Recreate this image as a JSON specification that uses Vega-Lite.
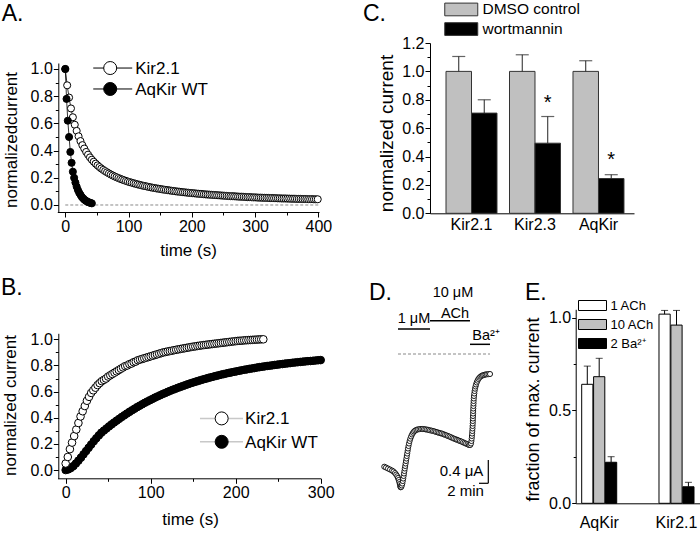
{
"$schema":"https://vega.github.io/schema/vega-lite/v6.json",
"width":700,"height":533,"autosize":{"type":"none"},"padding":0,"background":"white",
"config":{"view":{"stroke":null},
"axis":{"domainColor":"black","tickColor":"black","labelColor":"black","titleColor":"black","labelFont":"Liberation Sans","titleFont":"Liberation Sans","grid":false,"titleFontWeight":"normal","labelFlush":false,"labelOverlap":false,"labelBound":false,"domainWidth":1,"tickWidth":1},
"legend":{"labelFont":"Liberation Sans","labelColor":"black"},
"text":{"font":"Liberation Sans","color":"black"}},
"datasets":{
"A":[
{"s":"Kir2.1","t":0,"y":1.0},{"s":"Kir2.1","t":3,"y":0.88},{"s":"Kir2.1","t":6,"y":0.79},{"s":"Kir2.1","t":9,"y":0.71},{"s":"Kir2.1","t":12,"y":0.645},{"s":"Kir2.1","t":15,"y":0.59},{"s":"Kir2.1","t":18,"y":0.545},{"s":"Kir2.1","t":21,"y":0.505},{"s":"Kir2.1","t":24,"y":0.47},{"s":"Kir2.1","t":27,"y":0.44},{"s":"Kir2.1","t":30,"y":0.415},{"s":"Kir2.1","t":33,"y":0.39},{"s":"Kir2.1","t":36,"y":0.37},{"s":"Kir2.1","t":39,"y":0.35},{"s":"Kir2.1","t":42,"y":0.333},{"s":"Kir2.1","t":45,"y":0.318},{"s":"Kir2.1","t":48,"y":0.304},{"s":"Kir2.1","t":51,"y":0.291},{"s":"Kir2.1","t":54,"y":0.279},{"s":"Kir2.1","t":57,"y":0.268},{"s":"Kir2.1","t":60,"y":0.258},{"s":"Kir2.1","t":63,"y":0.249},{"s":"Kir2.1","t":66,"y":0.24},{"s":"Kir2.1","t":69,"y":0.232},{"s":"Kir2.1","t":72,"y":0.224},{"s":"Kir2.1","t":75,"y":0.217},{"s":"Kir2.1","t":78,"y":0.21},{"s":"Kir2.1","t":81,"y":0.204},{"s":"Kir2.1","t":84,"y":0.198},{"s":"Kir2.1","t":87,"y":0.192},{"s":"Kir2.1","t":90,"y":0.187},{"s":"Kir2.1","t":93,"y":0.182},{"s":"Kir2.1","t":96,"y":0.177},{"s":"Kir2.1","t":99,"y":0.172},{"s":"Kir2.1","t":102,"y":0.168},{"s":"Kir2.1","t":105,"y":0.164},{"s":"Kir2.1","t":108,"y":0.16},{"s":"Kir2.1","t":111,"y":0.156},{"s":"Kir2.1","t":114,"y":0.152},{"s":"Kir2.1","t":117,"y":0.149},{"s":"Kir2.1","t":120,"y":0.145},{"s":"Kir2.1","t":123,"y":0.142},{"s":"Kir2.1","t":126,"y":0.139},{"s":"Kir2.1","t":129,"y":0.136},{"s":"Kir2.1","t":132,"y":0.133},{"s":"Kir2.1","t":135,"y":0.13},{"s":"Kir2.1","t":138,"y":0.127},{"s":"Kir2.1","t":141,"y":0.125},{"s":"Kir2.1","t":144,"y":0.122},{"s":"Kir2.1","t":147,"y":0.12},{"s":"Kir2.1","t":150,"y":0.118},{"s":"Kir2.1","t":153,"y":0.115},{"s":"Kir2.1","t":156,"y":0.113},{"s":"Kir2.1","t":159,"y":0.111},{"s":"Kir2.1","t":162,"y":0.109},{"s":"Kir2.1","t":165,"y":0.107},{"s":"Kir2.1","t":168,"y":0.105},{"s":"Kir2.1","t":171,"y":0.103},{"s":"Kir2.1","t":174,"y":0.101},{"s":"Kir2.1","t":177,"y":0.099},{"s":"Kir2.1","t":180,"y":0.098},{"s":"Kir2.1","t":183,"y":0.096},{"s":"Kir2.1","t":186,"y":0.094},{"s":"Kir2.1","t":189,"y":0.093},{"s":"Kir2.1","t":192,"y":0.091},{"s":"Kir2.1","t":195,"y":0.09},{"s":"Kir2.1","t":198,"y":0.088},{"s":"Kir2.1","t":201,"y":0.087},{"s":"Kir2.1","t":204,"y":0.086},{"s":"Kir2.1","t":207,"y":0.084},{"s":"Kir2.1","t":210,"y":0.083},{"s":"Kir2.1","t":213,"y":0.082},{"s":"Kir2.1","t":216,"y":0.081},{"s":"Kir2.1","t":219,"y":0.079},{"s":"Kir2.1","t":222,"y":0.078},{"s":"Kir2.1","t":225,"y":0.077},{"s":"Kir2.1","t":228,"y":0.076},{"s":"Kir2.1","t":231,"y":0.075},{"s":"Kir2.1","t":234,"y":0.074},{"s":"Kir2.1","t":237,"y":0.073},{"s":"Kir2.1","t":240,"y":0.072},{"s":"Kir2.1","t":243,"y":0.071},{"s":"Kir2.1","t":246,"y":0.07},{"s":"Kir2.1","t":249,"y":0.069},{"s":"Kir2.1","t":252,"y":0.068},{"s":"Kir2.1","t":255,"y":0.067},{"s":"Kir2.1","t":258,"y":0.066},{"s":"Kir2.1","t":261,"y":0.065},{"s":"Kir2.1","t":264,"y":0.065},{"s":"Kir2.1","t":267,"y":0.064},{"s":"Kir2.1","t":270,"y":0.063},{"s":"Kir2.1","t":273,"y":0.062},{"s":"Kir2.1","t":276,"y":0.061},{"s":"Kir2.1","t":279,"y":0.061},{"s":"Kir2.1","t":282,"y":0.06},{"s":"Kir2.1","t":285,"y":0.059},{"s":"Kir2.1","t":288,"y":0.058},{"s":"Kir2.1","t":291,"y":0.058},{"s":"Kir2.1","t":294,"y":0.057},{"s":"Kir2.1","t":297,"y":0.056},{"s":"Kir2.1","t":300,"y":0.056},{"s":"Kir2.1","t":303,"y":0.055},{"s":"Kir2.1","t":306,"y":0.054},{"s":"Kir2.1","t":309,"y":0.054},{"s":"Kir2.1","t":312,"y":0.053},{"s":"Kir2.1","t":315,"y":0.053},{"s":"Kir2.1","t":318,"y":0.052},{"s":"Kir2.1","t":321,"y":0.052},{"s":"Kir2.1","t":324,"y":0.051},{"s":"Kir2.1","t":327,"y":0.051},{"s":"Kir2.1","t":330,"y":0.05},{"s":"Kir2.1","t":333,"y":0.05},{"s":"Kir2.1","t":336,"y":0.049},{"s":"Kir2.1","t":339,"y":0.049},{"s":"Kir2.1","t":342,"y":0.048},{"s":"Kir2.1","t":345,"y":0.048},{"s":"Kir2.1","t":348,"y":0.048},{"s":"Kir2.1","t":351,"y":0.047},{"s":"Kir2.1","t":354,"y":0.047},{"s":"Kir2.1","t":357,"y":0.046},{"s":"Kir2.1","t":360,"y":0.046},{"s":"Kir2.1","t":363,"y":0.046},{"s":"Kir2.1","t":366,"y":0.045},{"s":"Kir2.1","t":369,"y":0.045},{"s":"Kir2.1","t":372,"y":0.045},{"s":"Kir2.1","t":375,"y":0.044},{"s":"Kir2.1","t":378,"y":0.044},{"s":"Kir2.1","t":381,"y":0.044},{"s":"Kir2.1","t":384,"y":0.043},{"s":"Kir2.1","t":387,"y":0.043},{"s":"Kir2.1","t":390,"y":0.043},{"s":"Kir2.1","t":393,"y":0.042},{"s":"Kir2.1","t":396,"y":0.042},{"s":"Kir2.1","t":399,"y":0.042},
{"s":"AqKir WT","t":0,"y":1.0},{"s":"AqKir WT","t":2,"y":0.78},{"s":"AqKir WT","t":4,"y":0.62},{"s":"AqKir WT","t":6,"y":0.5},{"s":"AqKir WT","t":8,"y":0.39},{"s":"AqKir WT","t":10,"y":0.31},{"s":"AqKir WT","t":12,"y":0.245},{"s":"AqKir WT","t":14,"y":0.2},{"s":"AqKir WT","t":16,"y":0.165},{"s":"AqKir WT","t":18,"y":0.135},{"s":"AqKir WT","t":20,"y":0.11},{"s":"AqKir WT","t":22,"y":0.09},{"s":"AqKir WT","t":24,"y":0.075},{"s":"AqKir WT","t":26,"y":0.06},{"s":"AqKir WT","t":28,"y":0.05},{"s":"AqKir WT","t":30,"y":0.04},{"s":"AqKir WT","t":32,"y":0.033},{"s":"AqKir WT","t":34,"y":0.027},{"s":"AqKir WT","t":36,"y":0.022},{"s":"AqKir WT","t":38,"y":0.018},{"s":"AqKir WT","t":40,"y":0.015},{"s":"AqKir WT","t":42,"y":0.012}
],
"B":[
{"s":"AqKir WT","t":0,"y":0},{"s":"AqKir WT","t":3,"y":0.005},{"s":"AqKir WT","t":6,"y":0.015},{"s":"AqKir WT","t":9,"y":0.03},{"s":"AqKir WT","t":12,"y":0.05},{"s":"AqKir WT","t":15,"y":0.072},{"s":"AqKir WT","t":18,"y":0.095},{"s":"AqKir WT","t":21,"y":0.12},{"s":"AqKir WT","t":24,"y":0.145},{"s":"AqKir WT","t":27,"y":0.17},{"s":"AqKir WT","t":30,"y":0.195},{"s":"AqKir WT","t":33,"y":0.22},{"s":"AqKir WT","t":36,"y":0.243},{"s":"AqKir WT","t":39,"y":0.265},{"s":"AqKir WT","t":42,"y":0.286},{"s":"AqKir WT","t":45,"y":0.302},{"s":"AqKir WT","t":48,"y":0.318},{"s":"AqKir WT","t":51,"y":0.334},{"s":"AqKir WT","t":54,"y":0.349},{"s":"AqKir WT","t":57,"y":0.364},{"s":"AqKir WT","t":60,"y":0.378},{"s":"AqKir WT","t":63,"y":0.392},{"s":"AqKir WT","t":66,"y":0.406},{"s":"AqKir WT","t":69,"y":0.419},{"s":"AqKir WT","t":72,"y":0.432},{"s":"AqKir WT","t":75,"y":0.445},{"s":"AqKir WT","t":78,"y":0.457},{"s":"AqKir WT","t":81,"y":0.469},{"s":"AqKir WT","t":84,"y":0.481},{"s":"AqKir WT","t":87,"y":0.492},{"s":"AqKir WT","t":90,"y":0.503},{"s":"AqKir WT","t":93,"y":0.514},{"s":"AqKir WT","t":96,"y":0.524},{"s":"AqKir WT","t":99,"y":0.534},{"s":"AqKir WT","t":102,"y":0.544},{"s":"AqKir WT","t":105,"y":0.554},{"s":"AqKir WT","t":108,"y":0.563},{"s":"AqKir WT","t":111,"y":0.572},{"s":"AqKir WT","t":114,"y":0.581},{"s":"AqKir WT","t":117,"y":0.589},{"s":"AqKir WT","t":120,"y":0.598},{"s":"AqKir WT","t":123,"y":0.606},{"s":"AqKir WT","t":126,"y":0.614},{"s":"AqKir WT","t":129,"y":0.621},{"s":"AqKir WT","t":132,"y":0.629},{"s":"AqKir WT","t":135,"y":0.636},{"s":"AqKir WT","t":138,"y":0.643},{"s":"AqKir WT","t":141,"y":0.65},{"s":"AqKir WT","t":144,"y":0.657},{"s":"AqKir WT","t":147,"y":0.664},{"s":"AqKir WT","t":150,"y":0.67},{"s":"AqKir WT","t":153,"y":0.676},{"s":"AqKir WT","t":156,"y":0.682},{"s":"AqKir WT","t":159,"y":0.688},{"s":"AqKir WT","t":162,"y":0.694},{"s":"AqKir WT","t":165,"y":0.699},{"s":"AqKir WT","t":168,"y":0.705},{"s":"AqKir WT","t":171,"y":0.71},{"s":"AqKir WT","t":174,"y":0.715},{"s":"AqKir WT","t":177,"y":0.72},{"s":"AqKir WT","t":180,"y":0.725},{"s":"AqKir WT","t":183,"y":0.73},{"s":"AqKir WT","t":186,"y":0.734},{"s":"AqKir WT","t":189,"y":0.739},{"s":"AqKir WT","t":192,"y":0.743},{"s":"AqKir WT","t":195,"y":0.747},{"s":"AqKir WT","t":198,"y":0.751},{"s":"AqKir WT","t":201,"y":0.755},{"s":"AqKir WT","t":204,"y":0.759},{"s":"AqKir WT","t":207,"y":0.763},{"s":"AqKir WT","t":210,"y":0.767},{"s":"AqKir WT","t":213,"y":0.77},{"s":"AqKir WT","t":216,"y":0.774},{"s":"AqKir WT","t":219,"y":0.777},{"s":"AqKir WT","t":222,"y":0.78},{"s":"AqKir WT","t":225,"y":0.784},{"s":"AqKir WT","t":228,"y":0.787},{"s":"AqKir WT","t":231,"y":0.79},{"s":"AqKir WT","t":234,"y":0.793},{"s":"AqKir WT","t":237,"y":0.796},{"s":"AqKir WT","t":240,"y":0.798},{"s":"AqKir WT","t":243,"y":0.801},{"s":"AqKir WT","t":246,"y":0.804},{"s":"AqKir WT","t":249,"y":0.806},{"s":"AqKir WT","t":252,"y":0.809},{"s":"AqKir WT","t":255,"y":0.811},{"s":"AqKir WT","t":258,"y":0.814},{"s":"AqKir WT","t":261,"y":0.816},{"s":"AqKir WT","t":264,"y":0.818},{"s":"AqKir WT","t":267,"y":0.821},{"s":"AqKir WT","t":270,"y":0.823},{"s":"AqKir WT","t":273,"y":0.825},{"s":"AqKir WT","t":276,"y":0.827},{"s":"AqKir WT","t":279,"y":0.829},{"s":"AqKir WT","t":282,"y":0.831},{"s":"AqKir WT","t":285,"y":0.833},{"s":"AqKir WT","t":288,"y":0.834},{"s":"AqKir WT","t":291,"y":0.836},{"s":"AqKir WT","t":294,"y":0.838},{"s":"AqKir WT","t":297,"y":0.84},{"s":"AqKir WT","t":300,"y":0.841},
{"s":"Kir2.1","t":0,"y":0.05},{"s":"Kir2.1","t":2.5,"y":0.1},{"s":"Kir2.1","t":5,"y":0.16},{"s":"Kir2.1","t":7.5,"y":0.21},{"s":"Kir2.1","t":10,"y":0.26},{"s":"Kir2.1","t":12.5,"y":0.31},{"s":"Kir2.1","t":15,"y":0.36},{"s":"Kir2.1","t":17.5,"y":0.41},{"s":"Kir2.1","t":20,"y":0.45},{"s":"Kir2.1","t":22.5,"y":0.49},{"s":"Kir2.1","t":25,"y":0.53},{"s":"Kir2.1","t":27.5,"y":0.56},{"s":"Kir2.1","t":30,"y":0.59},{"s":"Kir2.1","t":32.5,"y":0.61},{"s":"Kir2.1","t":35,"y":0.63},{"s":"Kir2.1","t":37.5,"y":0.65},{"s":"Kir2.1","t":40,"y":0.665},{"s":"Kir2.1","t":42.5,"y":0.68},{"s":"Kir2.1","t":45,"y":0.69},{"s":"Kir2.1","t":47.5,"y":0.7},{"s":"Kir2.1","t":50,"y":0.715},{"s":"Kir2.1","t":52.5,"y":0.725},{"s":"Kir2.1","t":55,"y":0.735},{"s":"Kir2.1","t":57.5,"y":0.745},{"s":"Kir2.1","t":60,"y":0.755},{"s":"Kir2.1","t":62.5,"y":0.765},{"s":"Kir2.1","t":65,"y":0.775},{"s":"Kir2.1","t":67.5,"y":0.785},{"s":"Kir2.1","t":70,"y":0.795},{"s":"Kir2.1","t":72.5,"y":0.8},{"s":"Kir2.1","t":75,"y":0.81},{"s":"Kir2.1","t":77.5,"y":0.815},{"s":"Kir2.1","t":80,"y":0.825},{"s":"Kir2.1","t":82.5,"y":0.83},{"s":"Kir2.1","t":85,"y":0.84},{"s":"Kir2.1","t":87.5,"y":0.845},{"s":"Kir2.1","t":90,"y":0.85},{"s":"Kir2.1","t":92.5,"y":0.855},{"s":"Kir2.1","t":95,"y":0.86},{"s":"Kir2.1","t":97.5,"y":0.865},{"s":"Kir2.1","t":100,"y":0.87},{"s":"Kir2.1","t":102.5,"y":0.875},{"s":"Kir2.1","t":105,"y":0.88},{"s":"Kir2.1","t":107.5,"y":0.885},{"s":"Kir2.1","t":110,"y":0.89},{"s":"Kir2.1","t":112.5,"y":0.895},{"s":"Kir2.1","t":115,"y":0.9},{"s":"Kir2.1","t":117.5,"y":0.903},{"s":"Kir2.1","t":120,"y":0.907},{"s":"Kir2.1","t":122.5,"y":0.91},{"s":"Kir2.1","t":125,"y":0.913},{"s":"Kir2.1","t":127.5,"y":0.917},{"s":"Kir2.1","t":130,"y":0.92},{"s":"Kir2.1","t":132.5,"y":0.923},{"s":"Kir2.1","t":135,"y":0.926},{"s":"Kir2.1","t":137.5,"y":0.929},{"s":"Kir2.1","t":140,"y":0.932},{"s":"Kir2.1","t":142.5,"y":0.935},{"s":"Kir2.1","t":145,"y":0.938},{"s":"Kir2.1","t":147.5,"y":0.941},{"s":"Kir2.1","t":150,"y":0.944},{"s":"Kir2.1","t":152.5,"y":0.946},{"s":"Kir2.1","t":155,"y":0.949},{"s":"Kir2.1","t":157.5,"y":0.951},{"s":"Kir2.1","t":160,"y":0.954},{"s":"Kir2.1","t":162.5,"y":0.956},{"s":"Kir2.1","t":165,"y":0.958},{"s":"Kir2.1","t":167.5,"y":0.96},{"s":"Kir2.1","t":170,"y":0.962},{"s":"Kir2.1","t":172.5,"y":0.964},{"s":"Kir2.1","t":175,"y":0.966},{"s":"Kir2.1","t":177.5,"y":0.968},{"s":"Kir2.1","t":180,"y":0.97},{"s":"Kir2.1","t":182.5,"y":0.972},{"s":"Kir2.1","t":185,"y":0.974},{"s":"Kir2.1","t":187.5,"y":0.976},{"s":"Kir2.1","t":190,"y":0.978},{"s":"Kir2.1","t":192.5,"y":0.98},{"s":"Kir2.1","t":195,"y":0.982},{"s":"Kir2.1","t":197.5,"y":0.984},{"s":"Kir2.1","t":200,"y":0.986},{"s":"Kir2.1","t":202.5,"y":0.988},{"s":"Kir2.1","t":205,"y":0.989},{"s":"Kir2.1","t":207.5,"y":0.99},{"s":"Kir2.1","t":210,"y":0.992},{"s":"Kir2.1","t":212.5,"y":0.993},{"s":"Kir2.1","t":215,"y":0.994},{"s":"Kir2.1","t":217.5,"y":0.995},{"s":"Kir2.1","t":220,"y":0.996},{"s":"Kir2.1","t":222.5,"y":0.997},{"s":"Kir2.1","t":225,"y":0.998},{"s":"Kir2.1","t":227.5,"y":0.999},{"s":"Kir2.1","t":230,"y":1.0},{"s":"Kir2.1","t":232.5,"y":1.0}
],
"C":[
{"g":"Kir2.1","s":"DMSO control","v":1.0,"e":1.105},{"g":"Kir2.1","s":"wortmannin","v":0.706,"e":0.8},
{"g":"Kir2.3","s":"DMSO control","v":1.0,"e":1.117},{"g":"Kir2.3","s":"wortmannin","v":0.494,"e":0.682},
{"g":"AqKir","s":"DMSO control","v":1.0,"e":1.075},{"g":"AqKir","s":"wortmannin","v":0.245,"e":0.272}
],
"D":[
{"t":0.06,"i":-1.943},{"t":0.43,"i":-1.957},{"t":0.86,"i":-1.974},{"t":1.29,"i":-1.991},{"t":1.72,"i":-2.009},{"t":2.04,"i":-2.026},{"t":2.37,"i":-2.052},{"t":2.62,"i":-2.078},{"t":2.84,"i":-2.107},{"t":3.01,"i":-2.138},{"t":3.16,"i":-2.172},{"t":3.29,"i":-2.207},{"t":3.4,"i":-2.241},{"t":3.48,"i":-2.276},{"t":3.57,"i":-2.298},{"t":3.7,"i":-2.293},{"t":3.83,"i":-2.267},{"t":3.94,"i":-2.233},{"t":4.04,"i":-2.19},{"t":4.13,"i":-2.147},{"t":4.22,"i":-2.103},{"t":4.3,"i":-2.06},{"t":4.39,"i":-2.017},{"t":4.47,"i":-1.974},{"t":4.56,"i":-1.931},{"t":4.65,"i":-1.888},{"t":4.73,"i":-1.845},{"t":4.82,"i":-1.802},{"t":4.9,"i":-1.759},{"t":4.99,"i":-1.716},{"t":5.08,"i":-1.672},{"t":5.16,"i":-1.629},{"t":5.27,"i":-1.586},{"t":5.38,"i":-1.543},{"t":5.51,"i":-1.5},{"t":5.66,"i":-1.46},{"t":5.83,"i":-1.422},{"t":6.02,"i":-1.388},{"t":6.24,"i":-1.359},{"t":6.45,"i":-1.336},{"t":6.71,"i":-1.319},{"t":6.99,"i":-1.307},{"t":7.31,"i":-1.299},{"t":7.63,"i":-1.295},{"t":7.96,"i":-1.293},{"t":8.28,"i":-1.293},{"t":8.6,"i":-1.295},{"t":8.92,"i":-1.299},{"t":9.25,"i":-1.303},{"t":9.57,"i":-1.309},{"t":9.89,"i":-1.316},{"t":10.22,"i":-1.321},{"t":10.54,"i":-1.328},{"t":10.86,"i":-1.334},{"t":11.18,"i":-1.343},{"t":11.51,"i":-1.35},{"t":11.83,"i":-1.359},{"t":12.15,"i":-1.366},{"t":12.47,"i":-1.372},{"t":12.8,"i":-1.383},{"t":13.12,"i":-1.393},{"t":13.44,"i":-1.403},{"t":13.76,"i":-1.414},{"t":14.09,"i":-1.424},{"t":14.41,"i":-1.436},{"t":14.73,"i":-1.448},{"t":15.05,"i":-1.459},{"t":15.38,"i":-1.469},{"t":15.7,"i":-1.479},{"t":16.02,"i":-1.49},{"t":16.34,"i":-1.5},{"t":16.67,"i":-1.51},{"t":16.99,"i":-1.522},{"t":17.31,"i":-1.534},{"t":17.63,"i":-1.545},{"t":17.96,"i":-1.557},{"t":18.28,"i":-1.569},{"t":18.54,"i":-1.569},{"t":18.71,"i":-1.543},{"t":18.8,"i":-1.5},{"t":18.86,"i":-1.457},{"t":18.9,"i":-1.414},{"t":18.95,"i":-1.371},{"t":18.99,"i":-1.328},{"t":19.03,"i":-1.284},{"t":19.05,"i":-1.241},{"t":19.08,"i":-1.198},{"t":19.1,"i":-1.155},{"t":19.12,"i":-1.112},{"t":19.14,"i":-1.069},{"t":19.16,"i":-1.026},{"t":19.18,"i":-0.983},{"t":19.2,"i":-0.94},{"t":19.23,"i":-0.897},{"t":19.25,"i":-0.853},{"t":19.27,"i":-0.81},{"t":19.31,"i":-0.767},{"t":19.35,"i":-0.724},{"t":19.42,"i":-0.681},{"t":19.48,"i":-0.638},{"t":19.57,"i":-0.598},{"t":19.68,"i":-0.56},{"t":19.78,"i":-0.526},{"t":19.94,"i":-0.491},{"t":20.11,"i":-0.46},{"t":20.3,"i":-0.431},{"t":20.52,"i":-0.409},{"t":20.75,"i":-0.39},{"t":21.01,"i":-0.376},{"t":21.29,"i":-0.366},{"t":21.57,"i":-0.359},{"t":21.85,"i":-0.353},{"t":22.15,"i":-0.35},{"t":22.47,"i":-0.347},{"t":22.8,"i":-0.345}
],
"E":[
{"g":"AqKir","s":"1 ACh","v":0.641,"e":0.739},{"g":"AqKir","s":"10 ACh","v":0.682,"e":0.781},{"g":"AqKir","s":"2 Ba²⁺","v":0.221,"e":0.251},
{"g":"Kir2.1","s":"1 ACh","v":1.019,"e":1.039},{"g":"Kir2.1","s":"10 ACh","v":0.96,"e":1.039},{"g":"Kir2.1","s":"2 Ba²⁺","v":0.089,"e":0.113}
]
},
"layer":[
{
"layer":[
{"data":{"values":[{"x1":0,"x2":400,"y":0}]},"mark":{"type":"rule","stroke":"#888","strokeDash":[3,2],"strokeWidth":1},
"encoding":{"x":{"field":"x1","type":"quantitative","axis":{"orient":"bottom","offset":-321,"values":[50,150,250,350],"tickSize":3,"labels":false,"domain":false,"title":null}},"x2":{"field":"x2"},
"y":{"field":"y","type":"quantitative","axis":{"orient":"left","offset":-58.3,"values":[0.1,0.3,0.5,0.7,0.9],"tickSize":3,"labels":false,"domain":false,"title":null}}}},
{"data":{"name":"A"},"mark":{"type":"line","stroke":"black","strokeWidth":0.8},
"encoding":{"x":{"field":"t","type":"quantitative","scale":{"domain":[-12.6,401],"range":[57.3,319],"nice":false,"zero":false},
"axis":{"orient":"bottom","offset":-321,"values":[0,100,200,300,400],"format":"d","tickSize":5,"labelPadding":1,"labelFontSize":16,"title":"time (s)","titleFontSize":17,"titleX":188,"titleY":38,"titleBaseline":"middle"}},
"y":{"field":"y","type":"quantitative","scale":{"domain":[-0.0515,1.044],"range":[212,63],"nice":false,"zero":false},
"axis":{"orient":"left","offset":-58.3,"values":[0,0.2,0.4,0.6,0.8,1],"format":".1f","tickSize":5,"labelPadding":1,"labelFontSize":16,"title":"normalizedcurrent","titleFontSize":17,"titleX":-47.3,"titleY":139.5,"titleBaseline":"middle"}},
"detail":{"field":"s","type":"nominal"}}},
{"data":{"name":"A"},"mark":{"type":"point","filled":true,"size":50,"stroke":"black","strokeWidth":1,"opacity":1},
"encoding":{"x":{"field":"t","type":"quantitative","axis":null},"y":{"field":"y","type":"quantitative","axis":null},
"fill":{"field":"s","type":"nominal","scale":{"domain":["Kir2.1","AqKir WT"],"range":["white","black"]},"legend":null}}},
{"data":{"values":[{"x1":44.2,"x2":105.8,"y":1.007},{"x1":44.2,"x2":105.8,"y":0.853}]},"mark":{"type":"rule","stroke":"black","strokeWidth":1},
"encoding":{"x":{"field":"x1","type":"quantitative","axis":null},"x2":{"field":"x2"},"y":{"field":"y","type":"quantitative","axis":null}}},
{"data":{"values":[{"x":71,"y":1.007,"s":"Kir2.1"},{"x":71,"y":0.853,"s":"AqKir WT"}]},"mark":{"type":"point","filled":true,"size":169,"stroke":"black","strokeWidth":1,"opacity":1},
"encoding":{"x":{"field":"x","type":"quantitative","axis":null},"y":{"field":"y","type":"quantitative","axis":null},"fill":{"field":"s","type":"nominal","legend":null}}},
{"data":{"values":[{"x":110.5,"y":1.007,"label":"Kir2.1"},{"x":110.5,"y":0.853,"label":"AqKir WT"}]},"mark":{"type":"text","align":"left","baseline":"middle","fontSize":17,"dy":1},
"encoding":{"x":{"field":"x","type":"quantitative","axis":null},"y":{"field":"y","type":"quantitative","axis":null},"text":{"field":"label"}}},
{"data":{"values":[{"x":-100.5,"y":1.354,"label":"A."},{"x":470.5,"y":1.354,"label":"C."}]},"mark":{"type":"text","align":"left","baseline":"alphabetic","fontSize":23},
"encoding":{"x":{"field":"x","type":"quantitative","axis":null},"y":{"field":"y","type":"quantitative","axis":null},"text":{"field":"label"}}}
],
"resolve":{"axis":{"x":"independent","y":"independent"}}
},
{
"layer":[
{"data":{"values":[{"x1":158,"x2":208.6,"y":0.395},{"x1":158,"x2":208.6,"y":0.216}]},"mark":{"type":"rule","stroke":"#c8c8c8","strokeWidth":1.5},
"encoding":{"x":{"field":"x1","type":"quantitative","scale":{"domain":[-9.6,300],"range":[57.5,320.7],"nice":false,"zero":false},"axis":{"orient":"bottom","offset":-54.7,"values":[50,150,250],"tickSize":3,"labels":false,"domain":false,"title":null}},"x2":{"field":"x2"},
"y":{"field":"y","type":"quantitative","scale":{"domain":[-0.063,1.046],"range":[478.3,333.3],"nice":false,"zero":false},"axis":{"orient":"left","offset":-58.3,"values":[0.1,0.3,0.5,0.7,0.9],"tickSize":3,"labels":false,"domain":false,"title":null}}}},
{"data":{"name":"B"},"mark":{"type":"point","filled":true,"size":58,"stroke":"black","strokeWidth":1,"opacity":1},
"encoding":{"x":{"field":"t","type":"quantitative","axis":{"orient":"bottom","offset":-54.7,"values":[0,100,200,300],"format":"d","tickSize":5,"labelPadding":1,"labelFontSize":16,"title":"time (s)","titleFontSize":17,"titleX":190,"titleY":40.7,"titleBaseline":"middle"}},
"y":{"field":"y","type":"quantitative","axis":{"orient":"left","offset":-58.3,"values":[0,0.2,0.4,0.6,0.8,1],"format":".1f","tickSize":5,"labelPadding":1,"labelFontSize":16,"title":"normalized current","titleFontSize":17,"titleX":-48.3,"titleY":405,"titleBaseline":"middle"}},
"fill":{"field":"s","type":"nominal","scale":{"domain":["Kir2.1","AqKir WT"],"range":["white","black"]},"legend":null}}},
{"data":{"values":[{"x":183.5,"y":0.395,"s":"Kir2.1"},{"x":183.5,"y":0.216,"s":"AqKir WT"}]},"mark":{"type":"point","filled":true,"size":169,"stroke":"black","strokeWidth":1,"opacity":1},
"encoding":{"x":{"field":"x","type":"quantitative","axis":null},"y":{"field":"y","type":"quantitative","axis":null},"fill":{"field":"s","type":"nominal","legend":null}}},
{"data":{"values":[{"x":211,"y":0.395,"label":"Kir2.1"},{"x":211,"y":0.216,"label":"AqKir WT"}]},"mark":{"type":"text","align":"left","baseline":"middle","fontSize":17,"dy":1},
"encoding":{"x":{"field":"x","type":"quantitative","axis":null},"y":{"field":"y","type":"quantitative","axis":null},"text":{"field":"label"}}},
{"data":{"values":[{"x":-76.1,"y":1.336,"label":"B."}]},"mark":{"type":"text","align":"left","baseline":"alphabetic","fontSize":23},
"encoding":{"x":{"field":"x","type":"quantitative","axis":null},"y":{"field":"y","type":"quantitative","axis":null},"text":{"field":"label"}}}
],
"resolve":{"axis":{"x":"independent","y":"independent"}}
},
{
"layer":[
{"data":{"name":"C"},"mark":{"type":"bar","stroke":"#333","strokeWidth":1},
"encoding":{"x":{"field":"g","type":"nominal","scale":{"domain":["Kir2.1","Kir2.3","AqKir"],"range":[430,634],"paddingInner":0.197,"paddingOuter":0.205,"align":0.615},
"axis":{"orient":"bottom","offset":-319.7,"ticks":false,"labelPadding":3,"labelFontSize":16,"labelAngle":0,"title":null}},
"xOffset":{"field":"s","type":"nominal","scale":{"domain":["DMSO control","wortmannin"],"paddingInner":0,"paddingOuter":0}},
"y":{"field":"v","type":"quantitative","scale":{"domain":[0,1.2],"range":[213.3,43],"nice":false},
"axis":{"orient":"left","offset":-430,"values":[0,0.2,0.4,0.6,0.8,1,1.2],"format":".1f","tickSize":5,"labelPadding":1,"labelFontSize":16,"title":"normalized current","titleFontSize":19,"titleX":-43.3,"titleY":133,"titleBaseline":"middle"}},
"fill":{"field":"s","type":"nominal","scale":{"domain":["DMSO control","wortmannin"],"range":["#c0c0c0","#000000"]},
"legend":{"orient":"none","legendX":453.5,"legendY":1.7,"title":null,"symbolType":"M-3.3,-1.27H3.3V1.27H-3.3Z","symbolSize":100,"symbolStrokeColor":"#333","symbolStrokeWidth":1,"labelFontSize":15.5,"labelOffset":13.5,"rowPadding":1.6,"padding":0}}}},
{"data":{"name":"C"},"mark":{"type":"rule","stroke":"#222","strokeWidth":1},
"encoding":{"x":{"field":"g","type":"nominal","axis":null},"xOffset":{"field":"s","type":"nominal"},
"y":{"field":"v","type":"quantitative","axis":{"orient":"left","offset":-430,"values":[0.1,0.3,0.5,0.7,0.9,1.1],"tickSize":3,"labels":false,"domain":false,"title":null}},"y2":{"field":"e"}}},
{"data":{"name":"C"},"mark":{"type":"tick","orient":"horizontal","size":13,"thickness":1.2,"color":"#222"},
"encoding":{"x":{"field":"g","type":"nominal","axis":null},"xOffset":{"field":"s","type":"nominal"},"y":{"field":"e","type":"quantitative","axis":null}}},
{"data":{"values":[{"g":"Kir2.3","s":"wortmannin","y":0.81,"label":"*"},{"g":"AqKir","s":"wortmannin","y":0.41,"label":"*"}]},"mark":{"type":"text","fontSize":20,"baseline":"middle","align":"center","dy":5},
"encoding":{"x":{"field":"g","type":"nominal","axis":null},"xOffset":{"field":"s","type":"nominal"},"y":{"field":"y","type":"quantitative","axis":null},"text":{"field":"label"}}}
],
"resolve":{"axis":{"x":"independent","y":"independent"}}
},
{
"layer":[
{"data":{"values":[{"x1":3.01,"x2":22.8,"y":0}]},"mark":{"type":"rule","stroke":"#888","strokeDash":[3,2],"strokeWidth":1},
"encoding":{"x":{"field":"x1","type":"quantitative","scale":{"domain":[0,24.946],"range":[384,500],"nice":false,"zero":false},"axis":null},"x2":{"field":"x2"},
"y":{"field":"y","type":"quantitative","scale":{"domain":[-2.517,1.276],"range":[500,280],"nice":false,"zero":false},"axis":null}}},
{"data":{"name":"D"},"mark":{"type":"point","filled":true,"fill":"white","stroke":"black","strokeWidth":0.9,"size":26,"opacity":1},
"encoding":{"x":{"field":"t","type":"quantitative","axis":null},"y":{"field":"i","type":"quantitative","axis":null}}},
{"data":{"values":[{"x1":3.01,"x2":9.89,"y":0.431},{"x1":9.89,"x2":18.49,"y":0.574},{"x1":18.49,"x2":22.8,"y":0.167}]},"mark":{"type":"rule","stroke":"black","strokeWidth":1.5},
"encoding":{"x":{"field":"x1","type":"quantitative","axis":null},"x2":{"field":"x2"},"y":{"field":"y","type":"quantitative","axis":null}}},
{"data":{"values":[{"x1":22.43,"x2":22.43,"y":-1.828,"y2":-2.229},{"x1":20.43,"x2":22.43,"y":-2.229,"y2":-2.229}]},"mark":{"type":"rule","stroke":"black","strokeWidth":1.2},
"encoding":{"x":{"field":"x1","type":"quantitative","axis":null},"x2":{"field":"x2"},"y":{"field":"y","type":"quantitative","axis":null},"y2":{"field":"y2"}}},
{"data":{"values":[{"x":6.45,"y":0.603,"label":"1 μM"},{"x":15.27,"y":0.69,"label":"ACh"},{"x":14.84,"y":1.06,"label":"10 μM"},{"x":21.94,"y":0.31,"label":"Ba²⁺"}]},
"mark":{"type":"text","align":"center","baseline":"middle","fontSize":14.5},
"encoding":{"x":{"field":"x","type":"quantitative","axis":null},"y":{"field":"y","type":"quantitative","axis":null},"text":{"field":"label"}}},
{"data":{"values":[{"x":16.67,"y":-2.009,"label":"0.4 μA"},{"x":17.53,"y":-2.367,"label":"2 min"}]},
"mark":{"type":"text","align":"center","baseline":"middle","fontSize":15},
"encoding":{"x":{"field":"x","type":"quantitative","axis":null},"y":{"field":"y","type":"quantitative","axis":null},"text":{"field":"label"}}},
{"data":{"values":[{"x":-3.23,"y":0.931,"label":"D."},{"x":30.32,"y":0.931,"label":"E."}]},"mark":{"type":"text","align":"left","baseline":"alphabetic","fontSize":23},
"encoding":{"x":{"field":"x","type":"quantitative","axis":null},"y":{"field":"y","type":"quantitative","axis":null},"text":{"field":"label"}}}
]
},
{
"layer":[
{"data":{"name":"E"},"mark":{"type":"bar","stroke":"black","strokeWidth":1},
"encoding":{"x":{"field":"g","type":"nominal","scale":{"domain":["AqKir","Kir2.1"],"range":[575.7,700],"paddingInner":0.547,"paddingOuter":0.0775,"align":0.5},
"axis":{"orient":"bottom","offset":-29.7,"ticks":false,"labelPadding":11,"labelFontSize":16,"labelAngle":0,"title":null}},
"xOffset":{"field":"s","type":"nominal","scale":{"domain":["1 ACh","10 ACh","2 Ba²⁺"],"paddingInner":0.06,"paddingOuter":0}},
"y":{"field":"v","type":"quantitative","scale":{"domain":[0,1.045],"range":[503.3,309.3],"nice":false},
"axis":{"orient":"left","offset":-575.7,"values":[0,0.5,1],"format":".1f","tickSize":4,"labelPadding":1,"labelFontSize":16,"title":"fraction of max. current","titleFontSize":18,"titleX":-42.7,"titleY":409,"titleBaseline":"middle"}},
"fill":{"field":"s","type":"nominal","scale":{"domain":["1 ACh","10 ACh","2 Ba²⁺"],"range":["white","#c0c0c0","black"]},
"legend":{"orient":"none","legendX":586,"legendY":299,"title":null,"symbolType":"M-2.8,-1H2.8V1H-2.8Z","symbolSize":100,"symbolStrokeColor":"black","symbolStrokeWidth":1,"labelFontSize":13,"labelOffset":11.5,"rowPadding":4,"padding":0}}}},
{"data":{"name":"E"},"mark":{"type":"rule","stroke":"black","strokeWidth":1},
"encoding":{"x":{"field":"g","type":"nominal","axis":null},"xOffset":{"field":"s","type":"nominal"},
"y":{"field":"v","type":"quantitative","axis":{"orient":"left","offset":-575.7,"values":[0.25,0.75],"tickSize":2.5,"labels":false,"domain":false,"title":null}},"y2":{"field":"e"}}},
{"data":{"name":"E"},"mark":{"type":"tick","orient":"horizontal","size":7,"thickness":1,"color":"black"},
"encoding":{"x":{"field":"g","type":"nominal","axis":null},"xOffset":{"field":"s","type":"nominal"},"y":{"field":"e","type":"quantitative","axis":null}}}
],
"resolve":{"axis":{"x":"independent","y":"independent"}}
}
],
"resolve":{"scale":{"x":"independent","y":"independent","fill":"independent","xOffset":"independent"},"axis":{"x":"independent","y":"independent"},"legend":{"fill":"independent"}}
}
